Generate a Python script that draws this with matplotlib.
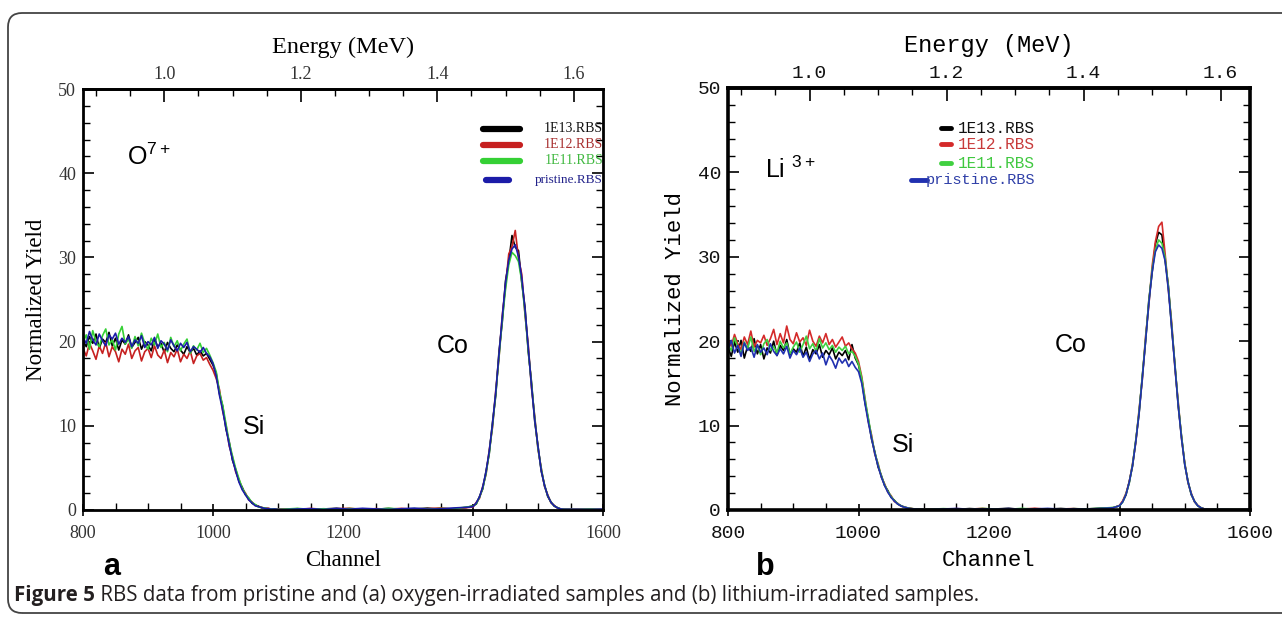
import numpy as np
import matplotlib
matplotlib.use("Agg")
import matplotlib.pyplot as plt
from matplotlib.patches import FancyBboxPatch
from matplotlib.transforms import IdentityTransform
from matplotlib.ticker import MultipleLocator, FixedLocator

# channel grid (plateau, Si edge, flat region, Co peak, tail)
channel = np.concatenate([
    np.arange(800, 1001, 5),
    np.arange(1005, 1101, 5),
    np.arange(1110, 1391, 20),
    np.arange(1400, 1541, 5),
    np.array([1560, 1580, 1600]),
])

labels = ["1E13.RBS", "1E12.RBS", "1E11.RBS", "pristine.RBS"]

# ---- panel a: O7+ irradiated ----
black_a = [20.1, 19.4, 20.6, 19.8, 20.9, 19.2, 20.3, 19.9, 21.1, 19.5, 20.4, 19.0, 20.2, 19.7, 20.8, 19.3, 19.9, 20.5, 19.1, 20.0,
           19.6, 18.9, 20.3, 19.4, 19.8, 18.7, 19.9, 19.2, 18.8, 19.6, 19.0, 18.5, 19.4, 18.7, 19.2, 18.4, 18.9, 18.3, 18.6, 17.9, 17.2,
           16.2, 13.8, 12.3, 9.6, 8.1, 5.9, 4.8, 3.4, 2.7, 1.8, 1.4, 0.8, 0.6, 0.45, 0.25, 0.2, 0.18, 0.1, 0.12, 0.06,
           0.08, 0.15, 0.05, 0.12, 0.2, 0.06, 0.14, 0.1, 0.18, 0.07, 0.13, 0.22, 0.09, 0.16, 0.3,
           0.5, 0.7, 1.6, 2.5, 4.6, 6.7, 10.4, 13.6, 18.8, 22.3, 27.2, 29.5, 32.6, 31.2, 30.8, 27.0, 24.1, 18.8, 15.2, 10.5,
           7.6, 4.6, 3.0, 1.6, 0.95, 0.45, 0.28, 0.1, 0.09,
           0.06, 0.1, 0.05]
red_a = [19.2, 18.3, 19.8, 18.9, 17.9, 19.5, 18.6, 19.9, 18.2, 19.4, 18.8, 17.6, 19.1, 18.5, 19.7, 18.0, 18.9, 19.3, 17.7, 18.8,
         19.2, 18.1, 19.5, 18.4, 18.0, 19.0, 17.5, 18.7, 18.2, 19.1, 17.6, 18.5, 18.0, 18.9, 17.4, 18.3, 18.6, 17.8, 18.1, 17.3, 16.6,
         15.6, 14.3, 11.7, 10.1, 7.6, 6.3, 4.5, 3.6, 2.5, 2.0, 1.2, 0.95, 0.55, 0.4, 0.32, 0.15, 0.2, 0.1, 0.08, 0.1,
         0.12, 0.06, 0.18, 0.09, 0.14, 0.21, 0.05, 0.16, 0.1, 0.19, 0.08, 0.15, 0.25, 0.11, 0.28,
         0.35, 0.9, 1.4, 2.8, 4.2, 7.1, 9.8, 14.2, 18.1, 23.1, 26.5, 30.4, 31.3, 33.2, 29.9, 28.0, 23.2, 19.6, 14.5, 11.1,
         7.2, 5.0, 2.8, 1.8, 0.85, 0.55, 0.22, 0.14, 0.07,
         0.1, 0.05, 0.08]
green_a = [19.9, 20.8, 19.1, 21.3, 20.0, 19.4, 20.7, 21.5, 19.6, 20.2, 19.0, 20.9, 21.8, 19.7, 20.3, 19.2, 20.6, 19.5, 21.0, 19.8,
           19.1, 20.4, 19.6, 20.9, 19.3, 19.9, 18.8, 20.5, 19.4, 20.1, 18.9, 19.7, 20.3, 18.6, 19.5, 19.0, 19.8, 18.7, 19.2, 18.4, 17.5,
           16.4, 14.0, 12.4, 10.2, 8.0, 6.4, 4.9, 3.7, 2.6, 1.9, 1.4, 0.9, 0.65, 0.35, 0.3, 0.22, 0.12, 0.14, 0.09, 0.07,
           0.1, 0.19, 0.07, 0.15, 0.08, 0.17, 0.12, 0.06, 0.2, 0.11, 0.16, 0.09, 0.18, 0.14, 0.35,
           0.45, 0.75, 1.5, 2.6, 4.3, 6.8, 10.0, 13.8, 18.2, 22.5, 26.2, 29.1, 30.6, 30.2, 29.5, 27.2, 23.4, 19.0, 14.9, 10.9,
           7.3, 4.9, 2.9, 1.7, 0.9, 0.5, 0.26, 0.12, 0.08,
           0.07, 0.09, 0.06]
blue_a = [20.5, 19.8, 21.2, 20.2, 19.6, 20.9, 20.1, 19.5, 20.8, 20.3, 21.0, 19.7, 20.4, 19.9, 20.6, 19.4, 20.2, 19.8, 20.7, 19.3,
          20.0, 19.6, 20.5, 19.2, 20.1, 19.7, 19.0, 20.2, 19.5, 18.9, 19.8, 19.3, 19.9, 18.8, 19.4, 19.1, 18.7, 19.3, 18.6, 18.2, 17.4,
          15.9, 13.6, 11.8, 9.7, 7.7, 6.0, 4.6, 3.3, 2.4, 1.8, 1.2, 0.85, 0.5, 0.4, 0.28, 0.18, 0.14, 0.1, 0.11, 0.06,
          0.05, 0.12, 0.16, 0.06, 0.18, 0.1, 0.2, 0.13, 0.07, 0.15, 0.22, 0.1, 0.14, 0.24, 0.32,
          0.4, 0.85, 1.55, 2.75, 4.5, 7.0, 10.2, 14.0, 18.5, 22.9, 26.9, 29.7, 31.0, 31.5, 30.1, 27.6, 23.8, 19.3, 14.7, 10.7,
          7.5, 4.7, 2.9, 1.7, 0.9, 0.5, 0.25, 0.12, 0.08,
          0.08, 0.06, 0.1]

# ---- panel b: Li3+ irradiated ----
black_b = [19.3, 18.2, 19.9, 18.7, 20.1, 18.0, 19.4, 18.8, 20.3, 18.5, 19.6, 17.9, 19.2, 18.6, 20.0, 18.3, 19.5, 18.9, 20.2, 18.4,
           19.1, 18.7, 19.8, 18.2, 19.3, 17.8, 19.0, 18.5, 19.6, 18.1, 18.9, 18.4, 19.2, 17.9, 18.7, 18.3, 18.9, 17.8, 19.6, 18.0, 17.2,
           15.4, 12.7, 10.8, 8.4, 6.9, 5.1, 4.1, 2.9, 2.3, 1.5, 1.15, 0.7, 0.52, 0.33, 0.26, 0.17, 0.14, 0.09, 0.1, 0.06,
           0.1, 0.14, 0.06, 0.17, 0.09, 0.12, 0.2, 0.07, 0.15, 0.11, 0.18, 0.08, 0.13, 0.21, 0.27,
           0.5, 1.0, 1.8, 3.4, 5.2, 8.3, 11.4, 15.9, 20.0, 24.9, 28.1, 31.5, 32.9, 32.6, 29.5, 26.5, 21.5, 17.2, 12.3, 8.8,
           5.4, 3.4, 1.8, 1.05, 0.5, 0.27, 0.12, 0.09, 0.05,
           0.07, 0.05, 0.08]
red_b = [20.2, 19.4, 20.8, 19.7, 19.0, 20.5, 19.6, 21.2, 19.3, 20.1, 19.8, 20.7, 19.5, 20.3, 21.4, 19.6, 20.9, 19.8, 21.8, 20.2,
         19.7, 21.0, 19.9, 20.4, 19.5, 21.3, 20.0, 19.4, 20.6, 19.8, 20.9, 19.6, 20.2, 19.3, 19.9, 20.5, 19.4, 19.8, 19.1, 18.6, 17.6,
         15.8, 13.2, 10.5, 8.9, 6.6, 5.5, 3.9, 3.1, 2.1, 1.7, 1.0, 0.8, 0.45, 0.38, 0.22, 0.2, 0.11, 0.12, 0.07, 0.08,
         0.13, 0.07, 0.16, 0.1, 0.19, 0.06, 0.14, 0.11, 0.2, 0.09, 0.12, 0.17, 0.07, 0.15, 0.24,
         0.55, 1.1, 2.0, 3.3, 5.5, 8.0, 11.9, 15.5, 20.6, 24.3, 28.9, 31.8, 33.6, 34.1, 30.3, 26.0, 22.2, 16.8, 12.8, 8.5,
         5.6, 3.2, 2.0, 0.95, 0.55, 0.24, 0.13, 0.07, 0.06,
         0.05, 0.08, 0.06]
green_b = [19.6, 18.9, 20.4, 19.3, 18.6, 19.9, 19.1, 20.5, 18.8, 19.5, 18.4, 19.7, 20.2, 18.9, 19.4, 18.6, 20.0, 19.2, 19.8, 18.5,
           19.3, 19.9, 18.7, 19.6, 20.6, 19.1, 19.7, 18.8, 20.3, 19.2, 19.8, 19.0, 19.5, 18.7, 19.3, 18.9, 19.4, 18.5, 18.8, 18.2, 17.3,
           15.6, 13.1, 10.9, 8.7, 6.8, 5.4, 4.0, 3.0, 2.2, 1.6, 1.1, 0.76, 0.5, 0.36, 0.25, 0.18, 0.13, 0.1, 0.08, 0.07,
           0.09, 0.16, 0.11, 0.07, 0.18, 0.12, 0.08, 0.19, 0.1, 0.14, 0.06, 0.16, 0.12, 0.2, 0.3,
           0.48, 0.95, 1.9, 3.2, 5.4, 8.2, 11.7, 15.8, 20.3, 24.7, 28.5, 30.8, 32.0, 31.6, 29.9, 26.3, 21.9, 17.1, 12.6, 8.7,
           5.5, 3.3, 1.9, 1.0, 0.5, 0.25, 0.12, 0.08, 0.06,
           0.06, 0.07, 0.05]
blue_b = [19.0, 20.1, 18.6, 19.5, 18.2, 19.8, 18.9, 19.3, 18.1, 19.6, 18.7, 19.2, 18.4, 19.7, 18.8, 18.3, 19.1, 18.5, 19.4, 18.0,
          18.9, 18.4, 19.2, 18.1, 18.7, 17.6, 18.5, 18.9, 17.9, 18.6, 17.2, 18.3, 17.7, 16.8, 18.0, 17.4, 17.9, 17.0, 17.6, 16.9, 16.4,
          15.0, 12.6, 10.4, 8.5, 6.7, 5.2, 3.9, 2.9, 2.1, 1.5, 1.05, 0.72, 0.48, 0.34, 0.24, 0.16, 0.12, 0.1, 0.08, 0.06,
          0.07, 0.12, 0.18, 0.09, 0.14, 0.1, 0.17, 0.06, 0.13, 0.19, 0.1, 0.15, 0.09, 0.18, 0.26,
          0.5, 0.98, 1.85, 3.3, 5.3, 8.1, 11.5, 15.6, 20.1, 24.5, 28.2, 30.6, 31.4, 31.0, 29.5, 26.0, 21.6, 16.9, 12.4, 8.5,
          5.4, 3.3, 1.9, 1.0, 0.5, 0.25, 0.12, 0.08, 0.06,
          0.06, 0.05, 0.07]

energy_ticks = [1.0, 1.2, 1.4, 1.6]

colors_a = ["#000000", "#c62020", "#35d035", "#1c1ca8"]
colors_b = ["#000000", "#d42a2a", "#40d040", "#2030b0"]
text_colors_a = ["#111111", "#a83030", "#40b840", "#22228a"]
text_colors_b = ["#111111", "#c83a3a", "#40c840", "#3040a8"]


def ch_to_mev(c):
    return 1.0 + (np.asarray(c) - 925.0) / 1050.0


def mev_to_ch(e):
    return 925.0 + (np.asarray(e) - 1.0) * 1050.0


W, H = 1282, 622
fig = plt.figure(figsize=(W / 100, H / 100), dpi=100)


def make_panel(rect, series, colors, fam, lab_size, tick_size, spine_w, tick_color):
    ax = fig.add_axes(rect)
    for ys, c in zip(series, colors):
        ax.plot(channel, ys, color=c, lw=1.2)
    ax.set_xlim(800, 1600)
    ax.set_ylim(0, 50)
    ax.xaxis.set_major_locator(MultipleLocator(200))
    ax.xaxis.set_minor_locator(MultipleLocator(50))
    ax.yaxis.set_major_locator(MultipleLocator(10))
    ax.yaxis.set_minor_locator(MultipleLocator(2))
    ax.tick_params(which="major", direction="inout", length=9, width=1.2, right=True, top=False,
                   labelsize=tick_size, colors="black", labelcolor=tick_color, pad=6)
    ax.tick_params(which="minor", direction="in", length=5, width=1.0, right=True, top=False)
    ax.tick_params(axis="y", which="major", direction="in", length=8, pad=5)
    for s in ax.spines.values():
        s.set_linewidth(spine_w)
    for t in ax.get_xticklabels() + ax.get_yticklabels():
        t.set_fontfamily(fam)
    ax.set_xlabel("Channel", fontsize=lab_size, family=fam, labelpad=6)
    ax.set_ylabel("Normalized Yield", fontsize=lab_size, family=fam, labelpad=8)

    sec = ax.secondary_xaxis("top", functions=(ch_to_mev, mev_to_ch))
    sec.xaxis.set_major_locator(FixedLocator(energy_ticks))
    sec.xaxis.set_minor_locator(MultipleLocator(0.05))
    sec.tick_params(which="major", direction="in", length=9, width=1.2,
                    labelsize=tick_size, labelcolor=tick_color, pad=4)
    sec.tick_params(which="minor", direction="in", length=5, width=1.0)
    sec.spines["top"].set_linewidth(spine_w)
    sec.xaxis.set_major_formatter(plt.FuncFormatter(lambda v, p: f"{v:.1f}"))
    for t in sec.get_xticklabels():
        t.set_fontfamily(fam)
    sec.set_xlabel("Energy (MeV)", fontsize=lab_size + 1, family=fam, labelpad=10)
    return ax


ax_a = make_panel([83 / W, 1 - 510 / H, 520 / W, 421 / H],
                  [black_a, red_a, green_a, blue_a], colors_a,
                  "Liberation Serif", 16.5, 13, 2.0, "#333333")
ax_b = make_panel([728 / W, 1 - 510 / H, 522 / W, 422 / H],
                  [black_b, red_b, green_b, blue_b], colors_b,
                  "Liberation Mono", 16, 14, 2.6, "#111111")

# annotations
sans = "Liberation Sans"
ax_a.text(868, 41.0, r"O$^{\mathregular{7+}}$", fontsize=18, family=sans, va="baseline")
ax_a.text(1046, 9.8, "Si", fontsize=18, family=sans, va="center")
ax_a.text(1345, 19.5, "Co", fontsize=18, family=sans, va="center")
ax_b.text(857, 39.3, r"Li $^{\mathregular{3+}}$", fontsize=18, family=sans, va="baseline")
ax_b.text(1301, 19.5, "Co", fontsize=18, family=sans, va="center")
ax_b.text(1051, 7.7, "Si", fontsize=18, family=sans, va="center")

# legends, drawn by hand to match the original layout
rows_a = [0.905, 0.867, 0.829, 0.784]
line_x_a = [(0.77, 0.84), (0.77, 0.84), (0.77, 0.84), (0.775, 0.82)]
for lab, c, tc, y, (x0, x1) in zip(labels, colors_a, text_colors_a, rows_a, line_x_a):
    ax_a.plot([x0, x1], [y, y], transform=ax_a.transAxes, color=c, lw=4.5,
              solid_capstyle="round", clip_on=False)
    ax_a.text(1.0, y, lab, transform=ax_a.transAxes, ha="right", va="center",
              fontsize=10 if lab != "pristine.RBS" else 9.5, family="Liberation Serif", color=tc)

rows_b = [0.905, 0.867, 0.822, 0.782]
line_x_b = [(0.408, 0.427), (0.408, 0.427), (0.408, 0.427), (0.35, 0.381)]
for lab, c, tc, y, (x0, x1) in zip(labels, colors_b, text_colors_b, rows_b, line_x_b):
    ax_b.plot([x0, x1], [y, y], transform=ax_b.transAxes, color=c, lw=3.5,
              solid_capstyle="round", clip_on=False)
    ax_b.text(0.588, y, lab, transform=ax_b.transAxes, ha="right", va="center",
              fontsize=11.5 if lab != "pristine.RBS" else 11, family="Liberation Mono", color=tc)

# panel letters
fig.text(112 / W, 1 - 567 / H, "a", fontsize=22, weight="bold", family=sans, ha="center", va="center")
fig.text(765 / W, 1 - 567 / H, "b", fontsize=22, weight="bold", family=sans, ha="center", va="center")

# caption
cap_y = 1 - 596 / H
t1 = fig.text(14 / W, cap_y, "Figure 5", fontsize=14.8, weight="bold", family="Open Sans",
              color="#231f20", va="center")
renderer = fig.canvas.get_renderer()
bb = t1.get_window_extent(renderer)
fig.text(bb.x1 / W, cap_y,
         " RBS data from pristine and (a) oxygen-irradiated samples and (b) lithium-irradiated samples.",
         fontsize=14.8, family="Open Sans", color="#231f20", va="center")

# rounded frame around the whole figure
frame = FancyBboxPatch((8, 9), 1320, 600, boxstyle="round,pad=0,rounding_size=14",
                       transform=IdentityTransform(), fill=False, ec="#444444", lw=1.3, clip_on=False)
fig.add_artist(frame)

fig.savefig("out.png", dpi=100)
